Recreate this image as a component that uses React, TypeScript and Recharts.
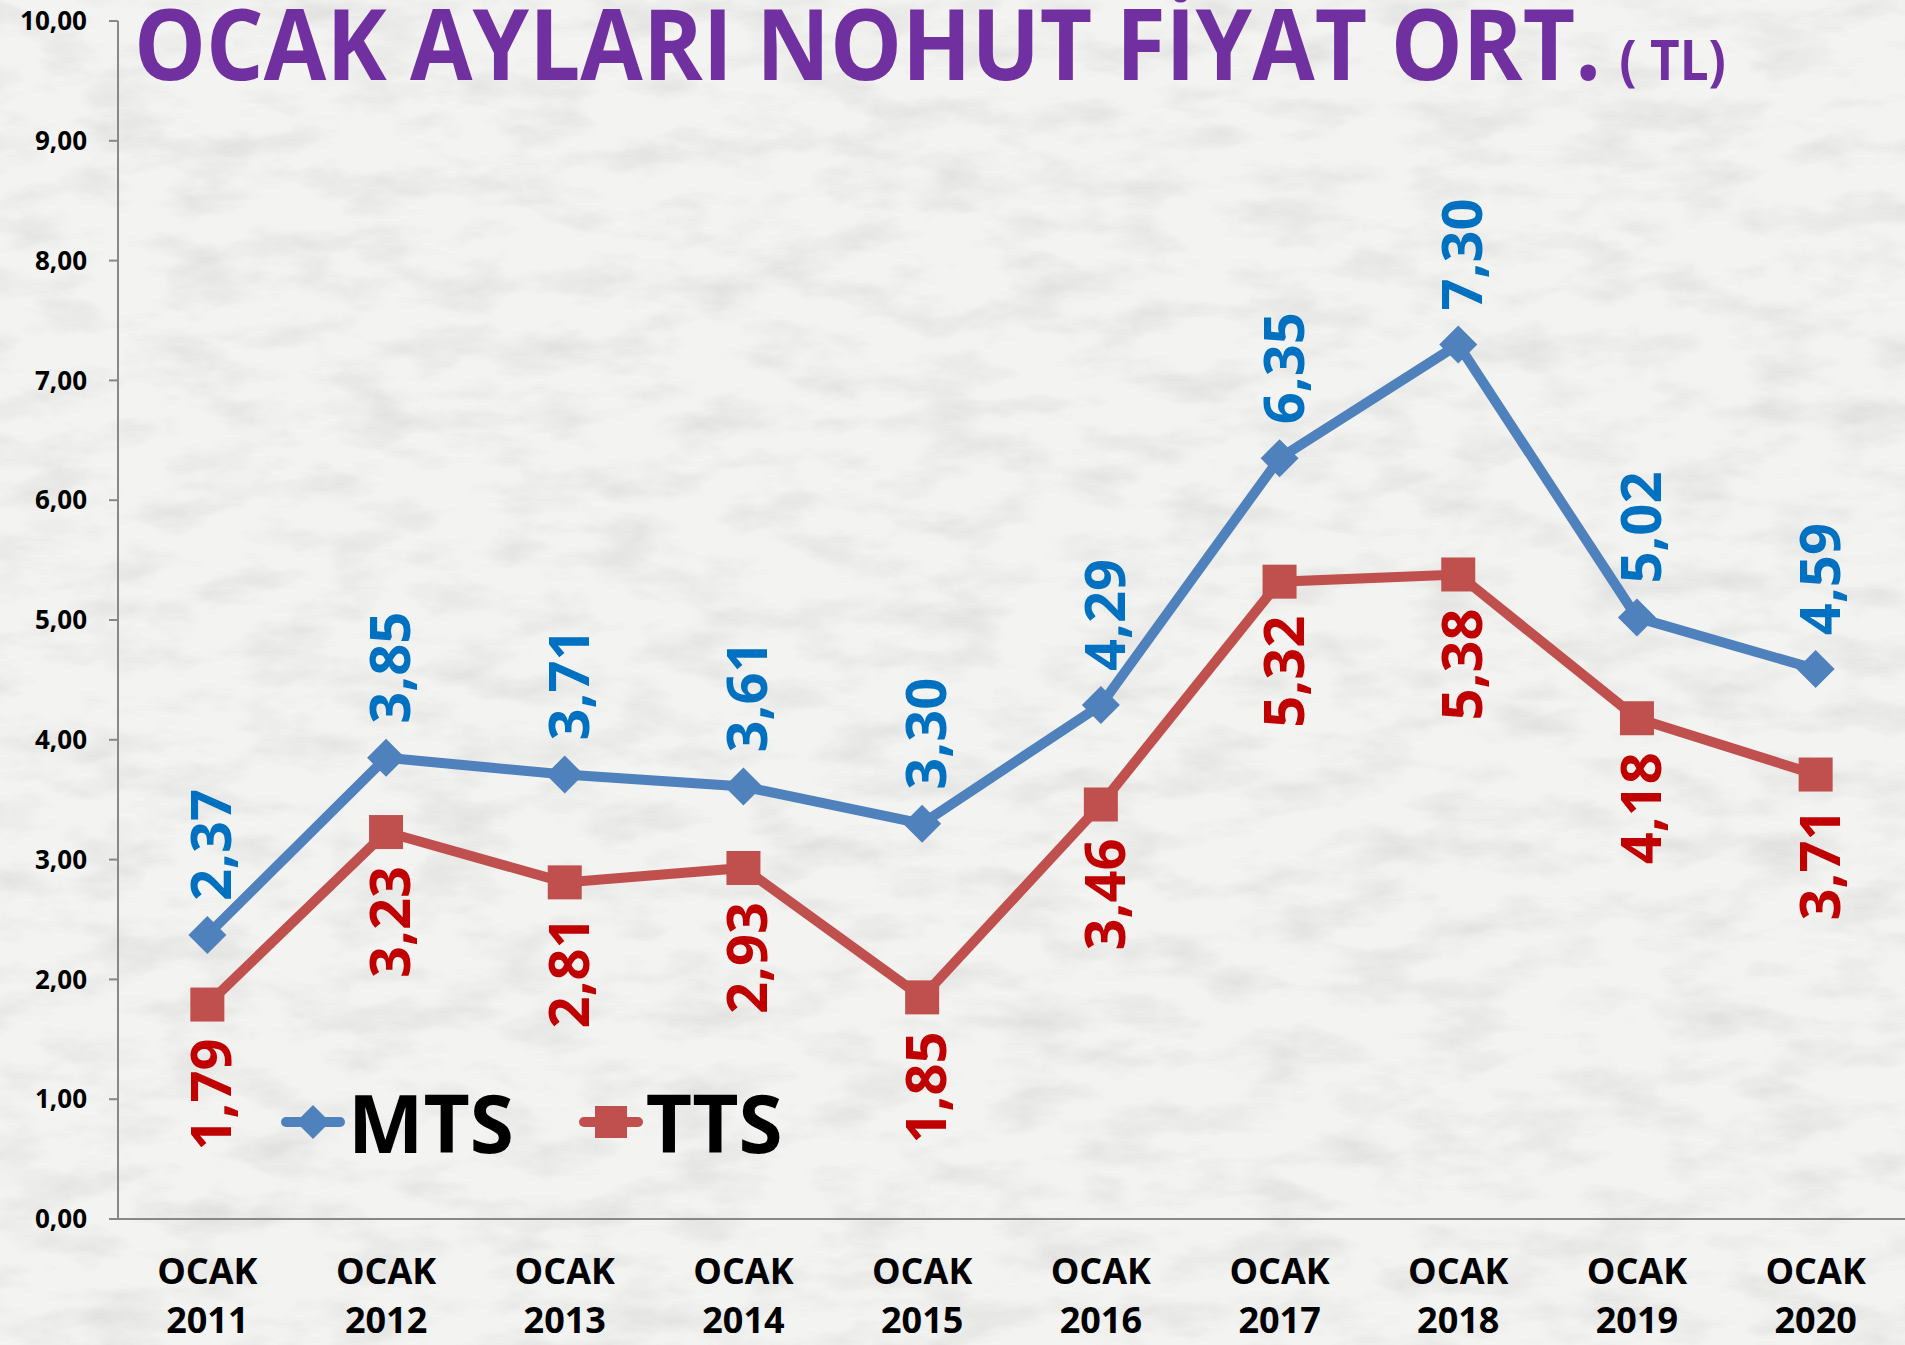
import { LineChart, Line, XAxis, YAxis, Legend } from 'recharts'

const years = ['2011', '2012', '2013', '2014', '2015', '2016', '2017', '2018', '2019', '2020']
const mtsValues = [2.37, 3.85, 3.71, 3.61, 3.3, 4.29, 6.35, 7.3, 5.02, 4.59]
const ttsValues = [1.79, 3.23, 2.81, 2.93, 1.85, 3.46, 5.32, 5.38, 4.18, 3.71]
const yTicks = [0, 1, 2, 3, 4, 5, 6, 7, 8, 9, 10]
const xCenters = years.map((_, i) => i + 1)
const xBounds = [...years.map((_, i) => i + 0.5), years.length + 0.5]

const data = years.map((year, i) => ({
  x: i + 1,
  year,
  mts: mtsValues[i],
  tts: ttsValues[i],
}))

const FONT = '"Open Sans", "DejaVu Sans", sans-serif'
const BLUE = '#4F81BD'
const RED = '#C0504D'
const BLUE_TEXT = '#0070C0'
const RED_TEXT = '#C00000'
const AXIS = '#888888'

const fmt = (v: number) => v.toFixed(2).replace('.', ',')

// note: "size" instead of "r", recharts passes its own r to cloned dots
function Diamond({ cx, cy, size = 19 }: { cx?: number; cy?: number; size?: number }) {
  if (cx == null || cy == null) return null
  const s = size
  return (
    <polygon
      points={`${cx},${cy - s} ${cx + s},${cy} ${cx},${cy + s} ${cx - s},${cy}`}
      fill={BLUE}
    />
  )
}

function Square({ cx, cy, size = 17 }: { cx?: number; cy?: number; size?: number }) {
  if (cx == null || cy == null) return null
  return <rect x={cx - size} y={cy - size} width={size * 2} height={size * 2} fill={RED} />
}

const mtsLabel = (props: any) => {
  const { x, y, value } = props
  const ay = y - 34
  return (
    <text
      x={x + 2}
      y={ay}
      transform={`rotate(-90 ${x + 2} ${ay})`}
      textAnchor="start"
      dominantBaseline="central"
      fill={BLUE_TEXT}
      fontSize={56}
      fontWeight={700}
      fontFamily={FONT}
    >
      {fmt(value)}
    </text>
  )
}

const ttsLabel = (props: any) => {
  const { x, y, value } = props
  const ay = y + 34
  return (
    <text
      x={x + 2}
      y={ay}
      transform={`rotate(-90 ${x + 2} ${ay})`}
      textAnchor="end"
      dominantBaseline="central"
      fill={RED_TEXT}
      fontSize={56}
      fontWeight={700}
      fontFamily={FONT}
    >
      {fmt(value)}
    </text>
  )
}

const XTick = (props: any) => {
  const { x, y, payload } = props
  const year = years[payload.value - 1]
  return (
    <text textAnchor="middle" fill="#000" fontSize={36} fontWeight={700} fontFamily={FONT}>
      <tspan x={x} y={y + 65}>OCAK</tspan>
      <tspan x={x} y={y + 114}>{year}</tspan>
    </text>
  )
}

const LegendItem = ({ label, kind }: { label: string; kind: 'mts' | 'tts' }) => (
  <div style={{ display: 'flex', alignItems: 'center' }}>
    <svg width={66} height={44}>
      <line
        x1={6}
        y1={22}
        x2={60}
        y2={22}
        stroke={kind === 'mts' ? BLUE : RED}
        strokeWidth={10}
        strokeLinecap="round"
      />
      {kind === 'mts' ? <Diamond cx={33} cy={22} size={17} /> : <Square cx={33} cy={22} size={16} />}
    </svg>
    <span style={{ fontSize: 80, fontWeight: 700, lineHeight: 1, color: '#000', marginLeft: 2 }}>
      {label}
    </span>
  </div>
)

const renderLegend = () => (
  <div style={{ display: 'flex', alignItems: 'center', gap: 64, fontFamily: FONT }}>
    <LegendItem label="MTS" kind="mts" />
    <LegendItem label="TTS" kind="tts" />
  </div>
)

export default function App() {
  return (
    <div
      style={{
        position: 'absolute',
        top: 0,
        left: 0,
        width: 1905,
        height: 1345,
        background: '#efefed',
        overflow: 'hidden',
      }}
    >
      <svg width={1905} height={1345} style={{ position: 'absolute', top: 0, left: 0 }}>
        <defs>
          <filter id="marble">
            <feTurbulence type="fractalNoise" baseFrequency="0.012 0.03" numOctaves={5} seed={7} />
            <feColorMatrix
              type="matrix"
              values="0 0 0 0 0.5  0 0 0 0 0.5  0 0 0 0 0.49  0 0 0 -2.2 1.25"
            />
          </filter>
        </defs>
        <rect width={1905} height={1345} fill="#f3f3f1" />
        <rect width={1905} height={1345} filter="url(#marble)" opacity={0.3} />
      </svg>

      <div style={{ position: 'absolute', top: 0, left: 0 }}>
        <LineChart width={1905} height={1345} data={data} margin={{ top: 21, right: 0, bottom: 0, left: 0 }}>
          <XAxis
            xAxisId="bounds"
            dataKey="x"
            type="number"
            domain={[0.5, 10.5]}
            ticks={xBounds}
            tick={() => <g />}
            tickLine={{ stroke: AXIS, strokeWidth: 2 }}
            tickSize={9}
            axisLine={false}
            height={0}
          />
          <XAxis
            xAxisId="main"
            dataKey="x"
            type="number"
            domain={[0.5, 10.5]}
            ticks={xCenters}
            interval={0}
            tick={<XTick />}
            tickLine={false}
            tickSize={0}
            tickMargin={0}
            axisLine={{ stroke: AXIS, strokeWidth: 2 }}
            height={126}
          />
          <YAxis
            domain={[0, 10]}
            ticks={yTicks}
            interval={0}
            tickFormatter={fmt}
            width={118}
            tick={{ fill: '#000', fontSize: 26, fontWeight: 700, fontFamily: FONT }}
            tickLine={{ stroke: AXIS, strokeWidth: 2 }}
            tickSize={9}
            tickMargin={22}
            axisLine={{ stroke: AXIS, strokeWidth: 2 }}
          />
          <Legend
            layout="horizontal"
            verticalAlign="middle"
            align="center"
            content={renderLegend}
            wrapperStyle={{ left: 280, top: 1082, width: 'auto' }}
          />
          <Line
            xAxisId="main"
            dataKey="mts"
            name="MTS"
            stroke={BLUE}
            strokeWidth={10}
            dot={<Diamond />}
            activeDot={false}
            label={mtsLabel}
            isAnimationActive={false}
          />
          <Line
            xAxisId="main"
            dataKey="tts"
            name="TTS"
            stroke={RED}
            strokeWidth={10}
            dot={<Square />}
            activeDot={false}
            label={ttsLabel}
            isAnimationActive={false}
          />
        </LineChart>
      </div>

      {/* title: one text element so the small "( TL)" part sits right after the big one */}
      <svg width={1905} height={130} style={{ position: 'absolute', top: 0, left: 0 }}>
        <text
          x={134}
          y={80}
          fontWeight={700}
          fontFamily={FONT}
          fill="#7030A0"
          textLength={1592}
          lengthAdjust="spacingAndGlyphs"
        >
          <tspan fontSize={99}>OCAK AYLARI NOHUT FİYAT ORT.</tspan>
          <tspan fontSize={56} dx={20}>( TL)</tspan>
        </text>
      </svg>
    </div>
  )
}
